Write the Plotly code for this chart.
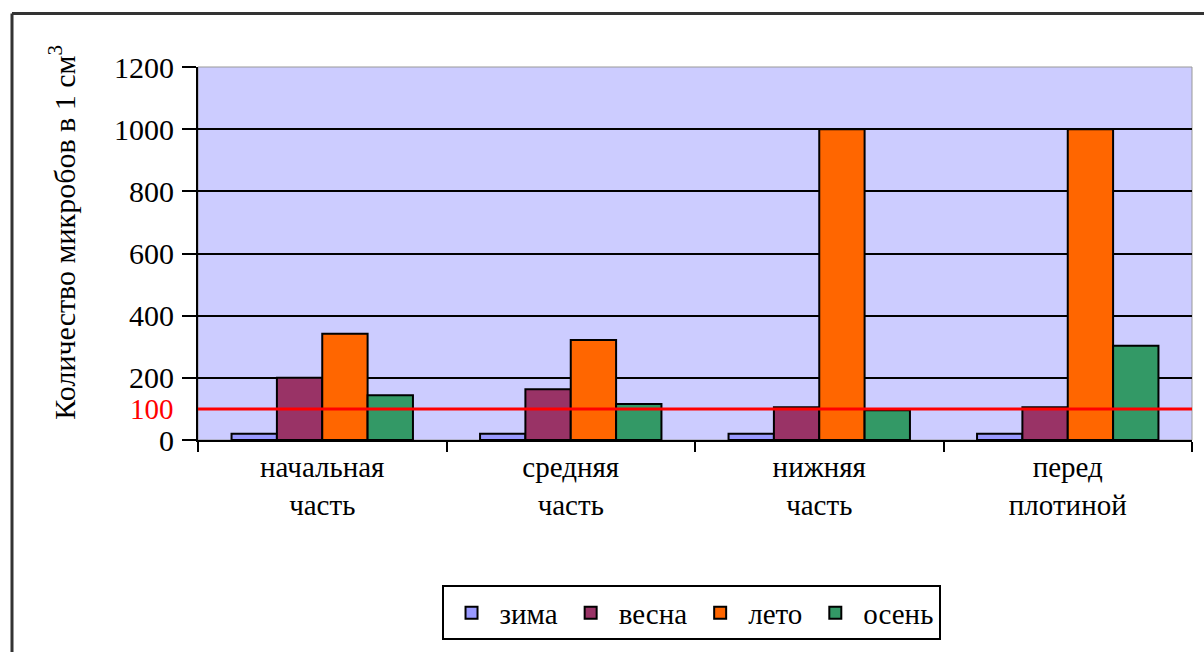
import plotly.graph_objects as go

categories = ["начальная<br>часть", "средняя<br>часть", "нижняя<br>часть", "перед<br>плотиной"]
series_names = ["зима", "весна", "лето", "осень"]
zima = [20, 20, 20, 20]
vesna = [200, 163, 105, 105]
leto = [342, 322, 1000, 1000]
osen = [144, 116, 96, 303]
series_colors = ["#9999FF", "#993366", "#FF6600", "#339966"]
y_ticks = [0, 200, 400, 600, 800, 1000, 1200]
threshold = 100
y_title = "Количество микробов в 1 см<sup>3</sup>"

FONT = "Liberation Serif, Times New Roman, serif"

fig = go.Figure()
for name, vals, col in zip(series_names, [zima, vesna, leto, osen], series_colors):
    fig.add_trace(go.Bar(
        x=categories, y=vals, name=name,
        marker=dict(color=col, line=dict(color="black", width=2)),
    ))

# threshold line
fig.add_shape(type="line", xref="paper", yref="y", x0=0, x1=1, y0=threshold, y1=threshold,
              line=dict(color="#FF0000", width=3), layer="above")
fig.add_annotation(xref="paper", yref="y", x=0, y=threshold, text=str(threshold),
                   showarrow=False, xanchor="right", xshift=-22,
                   font=dict(family=FONT, size=29, color="#FF0000"))

L, T, W, H = 198, 67, 994, 376

# y axis title as rotated annotation
fig.add_annotation(xref="paper", yref="paper", x=(62 - L) / W, y=(443 - 234) / H,
                   text=y_title, textangle=-90, showarrow=False,
                   xanchor="center", yanchor="middle",
                   font=dict(family=FONT, size=30, color="black"))

# plot border (top/right thin gray)
fig.add_shape(type="rect", xref="paper", yref="paper", x0=0, x1=1, y0=0, y1=1,
              line=dict(color="#999999", width=1), layer="below")

# outer frame (left and top)
fx = (12 - L) / W
fy = 1 + (T - 13) / H
fig.add_shape(type="line", xref="paper", yref="paper", x0=fx, x1=fx, y0=fy, y1=-(652 - 443) / H - 0.05,
              line=dict(color="#333333", width=3))
fig.add_shape(type="line", xref="paper", yref="paper", x0=fx, x1=(1204 - L) / W + 0.05, y0=fy, y1=fy,
              line=dict(color="#333333", width=3))

fig.update_layout(
    width=1204, height=652,
    margin=dict(l=198, r=12, t=67, b=209),
    paper_bgcolor="white",
    plot_bgcolor="#CCCCFF",
    barmode="group",
    bargap=0.27,
    bargroupgap=0,
    font=dict(family=FONT, color="black"),
    showlegend=True,
    legend=dict(
        orientation="h", x=0.496, xanchor="center", y=-0.39, yanchor="top",
        font=dict(family=FONT, size=29, color="black"),
        bordercolor="black", borderwidth=2, bgcolor="white",
        itemwidth=46,
    ),
    xaxis=dict(
        showline=True, linecolor="black", linewidth=2,
        ticks="outside", tickson="boundaries", ticklen=10, tickwidth=2, tickcolor="black",
        tickfont=dict(family=FONT, size=29, color="black"),
        showgrid=False,
    ),
    yaxis=dict(
        range=[0, 1200], tickvals=y_ticks,
        showline=True, linecolor="black", linewidth=2,
        ticks="outside", ticklen=14, tickwidth=2, tickcolor="black",
        tickfont=dict(family=FONT, size=30, color="black"),
        ticklabelstandoff=2,
        showgrid=True, gridcolor="black", gridwidth=2,
        zeroline=False,
    ),
)

fig.write_html("out.html")
